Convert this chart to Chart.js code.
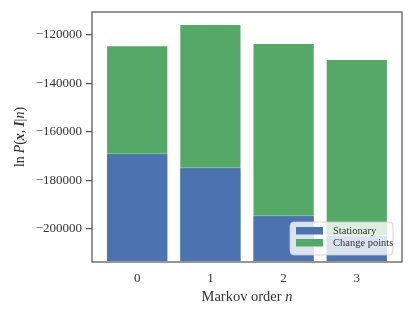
<!DOCTYPE html>
<html>
<head>
<meta charset="utf-8">
<script src="https://cdn.jsdelivr.net/npm/chart.js@4"></script>
<style>
  html, body { margin: 0; padding: 0; background: #fff; }
  #wrap { width: 415px; height: 315px; }
</style>
</head>
<body>
<div id="wrap"><canvas id="markovChart" width="415" height="315"></canvas></div>
<script>
    'use strict';

    // Data
    const categories = ['0', '1', '2', '3'];
    const stationary = [-168700, -174500, -194300, -202500];
    const changePoints = [-124200, -115500, -123300, -129900];
    const yTicks = [-200000, -180000, -160000, -140000, -120000];
    const yMin = -213600;
    const yMax = -110500;

    const SERIF = '"Liberation Serif", "DejaVu Serif", serif';
    const TEXT = '#333333';
    const FRAME = '#555555';

    const toPoints = (vals) => vals.map((v, i) => ({ x: i, y: [yMin, v] }));

    // Frame, axis titles and legend
    const decorations = {
        id: 'decorations',
        afterDatasetsDraw(chart) {
            const { ctx, chartArea: a } = chart;
            ctx.save();

            // frame
            ctx.strokeStyle = FRAME;
            ctx.lineWidth = 1.25;
            ctx.strokeRect(a.left, a.top, a.right - a.left, a.bottom - a.top);

            // legend
            const w = 103, h = 33;
            const lx = a.right - w - 9, ly = a.bottom - h - 7;
            ctx.beginPath();
            ctx.roundRect(lx, ly, w, h, 4);
            ctx.fillStyle = 'rgba(255,255,255,0.8)';
            ctx.fill();
            ctx.strokeStyle = 'rgba(204,204,204,0.8)';
            ctx.lineWidth = 1;
            ctx.stroke();
            ctx.font = '10.5px ' + SERIF;
            ctx.textBaseline = 'middle';
            ctx.textAlign = 'left';
            chart.data.datasets.forEach((ds, i) => {
                const rowY = ly + 8.5 + i * 12;
                ctx.fillStyle = ds.backgroundColor;
                ctx.fillRect(lx + 6, rowY - 3.5, 27, 7.5);
                ctx.fillStyle = TEXT;
                ctx.fillText(ds.label, lx + 43, rowY + 0.5);
            });

            // x-axis title: Markov order n
            ctx.fillStyle = TEXT;
            ctx.textBaseline = 'alphabetic';
            const xParts = [['Markov order ', 'normal'], ['n', 'italic']];
            let total = 0;
            xParts.forEach(([t, s]) => {
                ctx.font = s + ' 14.5px ' + SERIF;
                total += ctx.measureText(t).width;
            });
            let cx = (a.left + a.right) / 2 - total / 2;
            xParts.forEach(([t, s]) => {
                ctx.font = s + ' 14.5px ' + SERIF;
                ctx.fillText(t, cx, 301);
                cx += ctx.measureText(t).width;
            });

            // y-axis title: ln P(x, I | n)
            const yParts = [
                ['ln', 'normal'], ['\u2009', 'normal'], ['P', 'italic'], ['(', 'normal'],
                ['x', 'italic bold'], [',\u2009', 'normal'], ['I', 'italic bold'],
                ['|', 'normal'], ['n', 'italic'], [')', 'normal']
            ];
            let ytotal = 0;
            yParts.forEach(([t, s]) => {
                ctx.font = s + ' 14px ' + SERIF;
                ytotal += ctx.measureText(t).width;
            });
            ctx.translate(24, 137);
            ctx.rotate(-Math.PI / 2);
            let py = -ytotal / 2;
            yParts.forEach(([t, s]) => {
                ctx.font = s + ' 14px ' + SERIF;
                ctx.fillText(t, py, 0);
                py += ctx.measureText(t).width;
            });

            ctx.restore();
        }
    };

    const ctx = document.getElementById('markovChart');
    new Chart(ctx, {
        type: 'bar',
        data: {
            datasets: [
                {
                    label: 'Stationary',
                    data: toPoints(stationary),
                    backgroundColor: '#4C72B0',
                    borderColor: 'rgba(255,255,255,0.45)',
                    borderWidth: 1,
                    borderSkipped: false,
                    order: 0
                },
                {
                    label: 'Change points',
                    data: toPoints(changePoints),
                    backgroundColor: '#55A868',
                    borderColor: 'rgba(255,255,255,0.45)',
                    borderWidth: 1,
                    borderSkipped: false,
                    order: 1
                }
            ]
        },
        options: {
            responsive: false,
            animation: false,
            grouped: false,
            categoryPercentage: 0.85,
            barPercentage: 1.0,
            layout: { padding: { top: 12, right: 13, left: 0, bottom: 0 } },
            plugins: {
                legend: { display: false },
                tooltip: { enabled: false }
            },
            scales: {
                x: {
                    type: 'linear',
                    offset: false,
                    min: -0.6175,
                    max: 3.6175,
                    afterBuildTicks: (scale) => {
                        scale.ticks = categories.map((c, i) => ({ value: i }));
                    },
                    afterFit: (scale) => { scale.height = 53; },
                    border: { display: false },
                    grid: { display: false, drawTicks: false },
                    ticks: {
                        padding: 9,
                        color: TEXT,
                        font: { family: SERIF, size: 13 },
                        maxRotation: 0,
                        callback: (v) => categories[v]
                    }
                },
                y: {
                    min: yMin,
                    max: yMax,
                    afterBuildTicks: (scale) => {
                        scale.ticks = yTicks.map((v) => ({ value: v }));
                    },
                    afterFit: (scale) => { scale.width = 92; },
                    border: { display: false },
                    grid: {
                        drawOnChartArea: false,
                        drawTicks: true,
                        tickLength: 6,
                        color: FRAME,
                        lineWidth: 1.25
                    },
                    ticks: {
                        padding: 4,
                        color: TEXT,
                        font: { family: SERIF, size: 13 },
                        callback: (v) => '\u2212' + Math.abs(v)
                    }
                }
            }
        },
        plugins: [decorations]
    });
</script>
</body>
</html>
